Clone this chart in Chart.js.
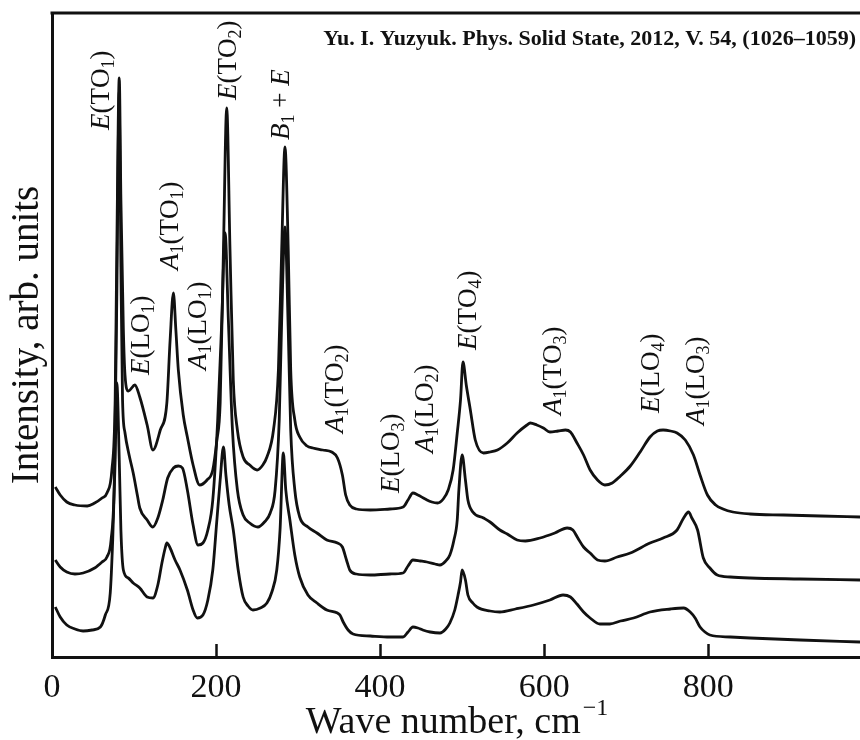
<!DOCTYPE html>
<html>
<head>
<meta charset="utf-8">
<script src="https://cdn.jsdelivr.net/npm/chart.js@4.4.1/dist/chart.umd.min.js"></script>
<style>
  html, body { margin: 0; padding: 0; background: #ffffff; }
  #wrap { width: 860px; height: 740px; position: relative; }
  canvas { display: block; }
</style>
</head>
<body>
<div id="wrap"><canvas id="c" width="860" height="740"></canvas></div>
<script>
// ---------------- data ----------------
const waveTop = [4,10,18,28,43,52,61,67,73,77,79,82,84,87,89,93,95,101,107,116,123,132,140,144,148,151,154,160,165,172,180,189,196,201,205,209,213,217,221,226,233,241,250,257,262,270,276,280,284,288,291,296,302,311,318,330,341,348,354,358,363,371,388,412,428,434,440,446,455,463,470,477,483,489,494,498,501,505,510,516,526,534,543,555,567,579,583,591,599,607,617,626,632,640,648,656,665,674,683,693,705,717,729,738,745,754,762,772,782,790,799,809,818,830,851,892,937,985];
const intTop  = [170,162,155,152,151,154,159,164,187,257,407,579,457,327,282,266,267,272,260,232,207,227,254,317,364,327,287,242,220,192,172,177,187,217,254,407,549,407,277,227,200,192,187,192,200,227,287,407,510,407,287,237,220,211,209,207,205,199,182,162,152,148,147,148,150,157,164,162,158,155,154,158,167,187,224,257,295,272,247,217,204,205,207,214,224,232,234,232,229,225,226,227,225,214,202,187,177,172,174,181,191,205,220,226,227,226,224,217,202,182,162,152,148,145,143,142,141,140];

const waveMid = [4,10,18,28,38,52,61,67,72,76,79,82,84,86,89,94,99,104,107,116,123,129,135,141,148,154,159,165,172,178,184,190,196,202,207,211,215,220,226,233,241,251,259,266,272,277,280,284,288,291,296,302,312,323,335,348,354,359,363,371,388,412,428,434,440,449,457,467,473,480,485,490,494,496,500,504,507,513,526,534,546,555,567,577,595,613,628,635,641,648,656,665,674,689,705,729,745,762,770,776,780,787,794,802,811,827,851,912,985];
const intMid  = [97,90,85,83,84,89,95,100,117,177,360,565,390,257,224,202,184,162,149,137,130,139,157,179,189,191,189,167,132,112,114,127,157,237,337,424,337,227,167,142,134,130,135,144,167,237,337,430,327,227,167,140,130,124,117,114,110,97,87,83,82,83,84,91,97,96,95,93,92,96,102,117,137,167,202,177,157,145,139,135,127,123,117,116,119,124,129,127,119,110,104,97,96,100,104,114,119,127,139,145,139,127,99,89,82,80,79,78,77];

const waveBot = [4,10,18,28,38,49,59,65,71,74,77,79,82,84,87,93,99,107,116,123,129,134,138,140,144,150,156,165,172,177,184,190,196,201,205,209,212,216,221,227,233,239,245,254,262,268,274,278,282,285,290,296,302,312,323,335,348,351,355,361,367,388,412,428,434,440,446,452,461,473,480,485,491,495,498,500,504,507,513,518,534,546,565,587,607,623,632,640,648,656,668,680,693,709,729,754,770,778,784,790,796,802,827,851,912,985];
const intBot  = [50,40,32,28,26,27,30,42,64,117,197,274,197,127,87,79,74,69,60,59,72,94,109,114,109,97,87,67,47,39,42,57,87,137,177,210,182,152,127,87,60,51,47,49,54,65,87,127,204,167,137,102,80,62,54,47,44,42,35,27,23,21,20,20,25,30,29,27,25,24,28,34,47,62,75,87,77,62,54,50,46,45,48,52,57,62,60,53,45,39,33,33,36,39,45,48,49,45,39,30,25,22,20,19,17,15];

const xTickValues = [0, 200, 400, 600, 800];
const xTickLabels = ['0', '200', '400', '600', '800'];

const peakLabelTexts = ['*E*(TO_1)','*E*(LO_1)','*A*_1(TO_1)','*A*_1(LO_1)','*E*(TO_2)','*B*_1 + *E*','*A*_1(TO_2)','*E*(LO_3)','*A*_1(LO_2)','*E*(TO_4)','*A*_1(TO_3)','*E*(LO_4)','*A*_1(LO_3)'];
const peakLabelWave  = [69.5,118.3,153.7,187.8,224.4,289,354.9,423.2,464.6,517.1,620.7,740.2,795.1];
const peakLabelInt   = [527,282,387,287,557,517,224,164,204,307,242,244,232];

const citation = 'Yu. I. Yuzyuk. Phys. Solid State, 2012, V. 54, (1026\u20131059)';
const xTitle = 'Wave number, cm';
const xTitleSup = '\u22121';
const yTitle = 'Intensity, arb. units';

// ---------------- drawing ----------------
const SERIF = "'Liberation Serif', 'Times New Roman', serif";

function toPoints(xs, ys) { return xs.map((v, i) => ({ x: v, y: ys[i] })); }

function drawRich(ctx, str, mainSize, subSize, subDrop) {
  // parse: *...* italic, _c subscript char
  let italic = false, x = 0, i = 0;
  while (i < str.length) {
    const ch = str[i];
    if (ch === '*') { italic = !italic; i++; continue; }
    let sub = false, t = ch;
    if (ch === '_') { sub = true; t = str[i + 1]; i += 2; } else { i++; }
    const size = sub ? subSize : mainSize;
    ctx.font = (italic ? 'italic ' : '') + size + 'px ' + SERIF;
    ctx.fillText(t, x, sub ? subDrop : 0);
    x += ctx.measureText(t).width;
  }
}

const decorPlugin = {
  id: 'decor',
  afterDraw(chart) {
    const ctx = chart.ctx;
    const a = chart.chartArea;
    const xs = chart.scales.x, ys = chart.scales.y;
    ctx.save();
    ctx.fillStyle = '#111';
    ctx.strokeStyle = '#111';
    // top frame line
    ctx.lineWidth = 3;
    ctx.beginPath();
    ctx.moveTo(a.left - 1.5, a.top);
    ctx.lineTo(chart.width, a.top);
    ctx.stroke();
    // inward tick marks
    ctx.lineWidth = 2.5;
    xTickValues.forEach(v => {
      if (v === 0) return;
      const px = Math.round(xs.getPixelForValue(v)) + 0.5;
      ctx.beginPath();
      ctx.moveTo(px, a.bottom);
      ctx.lineTo(px, a.bottom - 13);
      ctx.stroke();
    });
    // peak labels
    ctx.textBaseline = 'alphabetic';
    ctx.textAlign = 'left';
    peakLabelTexts.forEach((t, i) => {
      const px = xs.getPixelForValue(peakLabelWave[i]);
      const py = ys.getPixelForValue(peakLabelInt[i]);
      ctx.save();
      ctx.translate(px, py);
      ctx.rotate(-Math.PI / 2);
      drawRich(ctx, t, 27, 18, 5);
      ctx.restore();
    });
    // citation
    ctx.font = 'bold 22px ' + SERIF;
    ctx.textAlign = 'right';
    ctx.fillText(citation, 856, 45);
    // y title
    ctx.save();
    ctx.translate(38, (a.top + a.bottom) / 2);
    ctx.rotate(-Math.PI / 2);
    ctx.textAlign = 'center';
    ctx.font = '39px ' + SERIF;
    ctx.fillText(yTitle, 0, 0);
    ctx.restore();
    // x title
    ctx.font = '38px ' + SERIF;
    const w1 = ctx.measureText(xTitle).width;
    ctx.font = '24px ' + SERIF;
    const w2 = ctx.measureText(xTitleSup).width;
    const start = (a.left + a.right) / 2 - (w1 + w2) / 2;
    ctx.textAlign = 'left';
    ctx.font = '38px ' + SERIF;
    ctx.fillText(xTitle, start, 733);
    ctx.font = '24px ' + SERIF;
    ctx.fillText(xTitleSup, start + w1 + 2, 715);
    ctx.restore();
  }
};

const lineStyle = {
  borderColor: '#111',
  borderWidth: 2.8,
  pointRadius: 0,
  fill: false,
  cubicInterpolationMode: 'monotone'
};

new Chart(document.getElementById('c'), {
  type: 'line',
  data: {
    datasets: [
      Object.assign({ label: 'top', data: toPoints(waveTop, intTop) }, lineStyle),
      Object.assign({ label: 'middle', data: toPoints(waveMid, intMid) }, lineStyle),
      Object.assign({ label: 'bottom', data: toPoints(waveBot, intBot) }, lineStyle)
    ]
  },
  options: {
    responsive: false,
    devicePixelRatio: 1,
    animation: false,
    layout: { padding: { left: 0, right: 0, top: 13, bottom: 0 } },
    plugins: { legend: { display: false }, tooltip: { enabled: false } },
    scales: {
      x: {
        type: 'linear',
        min: 0,
        max: 985,
        grid: { display: false, drawTicks: false },
        border: { display: true, color: '#111', width: 3 },
        afterBuildTicks: s => { s.ticks = xTickValues.map(v => ({ value: v })); },
        afterFit: s => { s.height = 83; },
        ticks: {
          color: '#111',
          font: { family: SERIF, size: 34 },
          padding: 11,
          maxRotation: 0,
          autoSkip: false,
          callback: (v) => { const k = xTickValues.indexOf(v); return k >= 0 ? xTickLabels[k] : ''; }
        }
      },
      y: {
        type: 'linear',
        min: 0,
        max: 644,
        grid: { display: false, drawTicks: false },
        border: { display: true, color: '#111', width: 3 },
        ticks: { display: false },
        afterFit: s => { s.width = 52; }
      }
    }
  },
  plugins: [decorPlugin]
});
</script>
</body>
</html>
